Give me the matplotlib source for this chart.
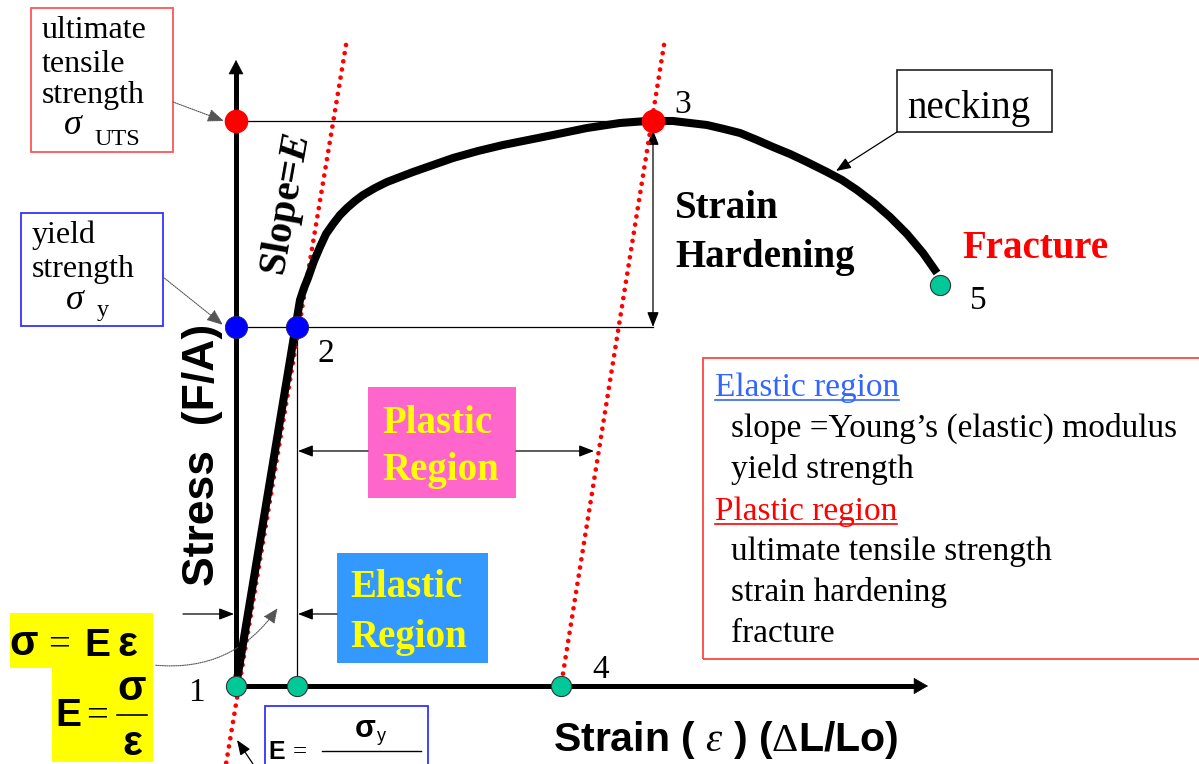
import matplotlib
matplotlib.use("Agg")
import matplotlib.pyplot as plt
from matplotlib.patches import Rectangle, FancyArrowPatch

plt.rcParams['mathtext.fontset'] = 'custom'
plt.rcParams['mathtext.rm'] = 'Liberation Serif'
plt.rcParams['mathtext.it'] = 'Liberation Serif:italic'
plt.rcParams['mathtext.bf'] = 'Liberation Serif:bold'
plt.rcParams['mathtext.bfit'] = 'Liberation Serif:bold:italic'

SERIF = 'Liberation Serif'
SANS = 'Liberation Sans'

# ---------------- data (strain, stress; arbitrary units) ----------------
curve_strain = [0.00, 0.64, 0.68, 0.72, 0.78, 0.84, 0.90, 0.97, 1.04, 1.11, 1.19,
                1.27, 1.39, 1.51, 1.64, 1.77, 1.97, 2.17, 2.42, 2.67, 2.92, 3.17,
                3.51, 3.84, 4.11, 4.17, 4.37, 4.54, 4.71, 4.88, 5.04, 5.21, 5.37,
                5.54, 5.71, 5.91, 6.06, 6.21, 6.38, 6.54, 6.71, 6.87, 7.01]
curve_stress = [0.00, 3.86, 3.98, 4.08, 4.25, 4.39, 4.52, 4.62, 4.71, 4.78, 4.85,
                4.91, 4.98, 5.04, 5.09, 5.14, 5.21, 5.28, 5.35, 5.41, 5.46, 5.51,
                5.58, 5.63, 5.65, 5.65, 5.65, 5.63, 5.61, 5.57, 5.53, 5.46, 5.39,
                5.32, 5.24, 5.14, 5.06, 4.96, 4.83, 4.69, 4.52, 4.33, 4.13]

yield_strain, yield_stress = 0.61, 3.59
uts_strain, uts_stress = 4.17, 5.65
offset_strain = 3.25
fracture_strain, fracture_stress = 7.04, 4.01

green_strain = [0.0, yield_strain, offset_strain, fracture_strain]
green_stress = [0.0, 0.0, 0.0, fracture_stress]
red_strain = [0.0, uts_strain]
red_stress = [uts_stress, uts_stress]
blue_strain = [0.0, yield_strain]
blue_stress = [yield_stress, yield_stress]

elastic_line_strain = [1.10, -0.10]
elastic_line_stress = [6.41, -0.78]
offset_line_strain = [4.28, offset_strain]
offset_line_stress = [6.41, 0.0]

legend_lines = ["Elastic region", "slope =Young\u2019s (elastic) modulus", "yield strength",
                "Plastic region", "ultimate tensile strength", "strain hardening", "fracture"]

# ---------------- figure ----------------
fig = plt.figure(figsize=(11.99, 7.64), dpi=100)
ax = fig.add_axes([0, 0, 1, 1])
ax.set_xlim(-2.36, 9.63)
ax.set_ylim(-0.78, 6.86)
ax.axis('off')


def P(px, py):
    """layout helper: figure pixel -> data coords"""
    return ((px - 236) / 100.0, (686 - py) / 100.0)


def rect(x0, y0, x1, y1, **kw):
    a = P(x0, y1)
    r = Rectangle(a, (x1 - x0) / 100.0, (y1 - y0) / 100.0, **kw)
    ax.add_patch(r)
    return r


def txt(px, py, s, **kw):
    x, y = P(px, py)
    kw.setdefault('ha', 'left')
    kw.setdefault('va', 'baseline')
    return ax.text(x, y, s, **kw)


def arrow(p0, p1, style='-|>', lw=0.9, color='k', ls='-', hl=0.9, hw=0.35, ms=10, z=3):
    ax.annotate('', xy=p1, xytext=p0,
                arrowprops=dict(arrowstyle=f'{style},head_length={hl},head_width={hw}',
                                mutation_scale=ms, lw=lw, color=color, linestyle=ls,
                                shrinkA=0, shrinkB=0), zorder=z)


# guide lines (thin)
ax.plot([0, uts_strain], [uts_stress, uts_stress], color='k', lw=0.9, zorder=2)
ax.plot([0, uts_strain], [yield_stress, yield_stress], color='k', lw=0.9, zorder=2)
ax.plot([yield_strain, yield_strain], [0, yield_stress], color='k', lw=0.9, zorder=2)
arrow((uts_strain, uts_stress - 0.09), (uts_strain, yield_stress), style='<|-|>', z=2)

# red dotted modulus lines
for xs, ys in [(elastic_line_strain, elastic_line_stress), (offset_line_strain, offset_line_stress)]:
    ax.plot(xs, ys, color='red', lw=3.4, linestyle=(0, (0.001, 1.75)),
            dash_capstyle='round', zorder=4)

# axes
ax.plot([0, 0], [0, 6.15], color='k', lw=3.6, solid_capstyle='butt', zorder=3)
ax.plot([0, 6.80], [0, 0], color='k', lw=3.6, solid_capstyle='butt', zorder=3)
arrow((0, 6.0), (0, 6.26), hl=0.95, hw=0.5, lw=0.5, ms=10)
arrow((6.6, 0), (6.92, 0), hl=0.95, hw=0.55, lw=0.5, ms=10)

# stress-strain curve
ax.plot(curve_strain, curve_stress, color='k', lw=5.8, solid_joinstyle='round',
        solid_capstyle='butt', zorder=5)

# key points
ax.plot(red_strain, red_stress, 'o', ms=16, color='#FF0000', mec='#FF0000', zorder=6, ls='none')
ax.plot(blue_strain, blue_stress, 'o', ms=16, color='#0000FF', mec='#222266', mew=0.6, zorder=6, ls='none')
ax.plot(green_strain, green_stress, 'o', ms=14.5, color='#00C896', mec='#333333', mew=0.8, zorder=6, ls='none')

# point numbers
NUM = dict(fontsize=24, family=SERIF)
txt(188, 701, '1', **NUM)
txt(318, 362, '2', **NUM)
txt(674, 113, '3', **NUM)
txt(592, 678, '4', **NUM)
txt(970, 309, '5', **NUM)

# Slope=E
sx, sy = P(287, 205)
ax.text(sx, sy, r'Slope=$\mathbfit{E}$', fontsize=29, family=SERIF, weight='bold',
        rotation=80, ha='center', va='center', rotation_mode='anchor', zorder=7)

# Strain hardening / Fracture
txt(675, 218, 'Strain', fontsize=28, family=SERIF, weight='bold')
txt(675, 267, 'Hardening', fontsize=28, family=SERIF, weight='bold')
txt(962, 258, 'Fracture', fontsize=28, family=SERIF, weight='bold', color='#FF0000')

# axis labels
lx, ly = P(203, 455)
ax.text(lx, ly, 'Stress  (F/A)', fontsize=32, family=SANS, weight='bold', rotation=90,
        ha='center', va='center')
lx, ly = P(726, 740)
ax.text(lx, ly, r'Strain ( $\varepsilon$ ) ($\Delta$L/Lo)', fontsize=29.5, family=SANS,
        weight='bold', ha='center', va='center')

# UTS box
rect(31, 8, 173, 152, fill=False, ec='#FF5555', lw=1.3, zorder=3)
for s, b in [('ultimate', 38), ('tensile', 72), ('strength', 103)]:
    txt(42, b, s, fontsize=23, family=SERIF)
txt(64, 134, '\u03c3', fontsize=26, family=SERIF, style='italic')
txt(95, 145, 'UTS', fontsize=17.5, family=SERIF)
arrow(P(173, 102), P(224, 121), ls=(0, (1, 1)), color='#555555', lw=0.8, hl=1.0, hw=0.4)

# yield box
rect(21, 213, 163, 326, fill=False, ec='#3333FF', lw=1.3, zorder=3)
txt(32, 243, 'yield', fontsize=23, family=SERIF)
txt(32, 277, 'strength', fontsize=23, family=SERIF)
txt(66, 309, '\u03c3', fontsize=26, family=SERIF, style='italic')
txt(97, 316, 'y', fontsize=17.5, family=SERIF)
arrow(P(163, 277), P(223, 325), ls=(0, (1, 1)), color='#555555', lw=0.8, hl=1.0, hw=0.4)

# necking box
rect(897, 70, 1052, 132, fill=False, ec='#222222', lw=1.2, zorder=3)
txt(907, 118, 'necking', fontsize=28, family=SERIF)
arrow(P(897, 132), P(836, 171), lw=0.9)

# plastic / elastic region boxes
rect(368, 387, 516, 498, fc='#FF66CC', ec='none', zorder=3)
txt(382, 433, 'Plastic', fontsize=28, family=SERIF, weight='bold', color='#FFFF00', zorder=4)
txt(382, 480, 'Region', fontsize=28, family=SERIF, weight='bold', color='#FFFF00', zorder=4)
arrow(P(368, 451), P(298, 451))
arrow(P(516, 451), P(594, 451))

rect(337, 553, 488, 663, fc='#3399FF', ec='none', zorder=3)
txt(350, 597, 'Elastic', fontsize=28, family=SERIF, weight='bold', color='#FFFF00', zorder=4)
txt(350, 647, 'Region', fontsize=28, family=SERIF, weight='bold', color='#FFFF00', zorder=4)
arrow(P(337, 614), P(298, 614))
arrow(P(183, 614), P(234, 614))

# legend box
rect(703, 358, 1215, 659, fill=False, ec='#FF4444', lw=1.3, zorder=3)
leg_pos = [(715, 396), (731, 437), (731, 478), (715, 520), (731, 560), (731, 601), (731, 642)]
leg_col = ['#3366FF', 'k', 'k', '#FF0000', 'k', 'k', 'k']
leg_texts = []
for s, (px, py), c in zip(legend_lines, leg_pos, leg_col):
    leg_texts.append(txt(px, py, s, fontsize=24, family=SERIF, color=c))

# yellow formula box
rect(10, 613, 153, 668, fc='#FFFF00', ec='none', zorder=3)
rect(52, 667, 153, 762, fc='#FFFF00', ec='none', zorder=3)
F = dict(family=SANS, weight='bold', zorder=4)
txt(9, 655, '\u03c3', fontsize=30, **F)
txt(48, 655, '=', fontsize=28, family=SERIF, zorder=4)
txt(84, 656, 'E', fontsize=28, **F)
txt(117, 656, '\u03b5', fontsize=30, **F)
txt(55, 726, 'E', fontsize=28, **F)
txt(86, 726, '=', fontsize=28, family=SERIF, zorder=4)
txt(132, 700, '\u03c3', fontsize=30, ha='center', **F)
ax.plot(*zip(P(117, 715), P(147, 715)), color='k', lw=1.2, zorder=4)
txt(132, 755, '\u03b5', fontsize=30, ha='center', **F)
curved = FancyArrowPatch(P(153, 665), P(279, 606), connectionstyle='arc3,rad=0.3',
                         arrowstyle='-|>,head_length=0.9,head_width=0.4', mutation_scale=10,
                         lw=0.8, color='#555555', linestyle=(0, (1, 1)), zorder=4)
ax.add_patch(curved)

# E = sigma_y / ... box
rect(265, 706, 428, 790, fill=False, ec='#3333FF', lw=1.3, zorder=3)
txt(268, 759, 'E', fontsize=18, **F)
txt(293, 758, '=', fontsize=18, family=SERIF, zorder=4)
txt(365, 737, '\u03c3', fontsize=22, ha='center', **F)
txt(377, 741, 'y', fontsize=13, family=SANS, zorder=4)
ax.plot(*zip(P(322, 751), P(421, 751)), color='k', lw=1.0, zorder=4)
arrow(P(253, 764), P(237, 740), lw=0.9)

# underline the legend headings
fig.canvas.draw()
rend = fig.canvas.get_renderer()
inv = ax.transData.inverted()
for i, py in [(0, 400), (3, 524)]:
    bb = leg_texts[i].get_window_extent(rend)
    x0 = inv.transform((bb.x0, 0))[0]
    x1 = inv.transform((bb.x1, 0))[0]
    yy = P(0, py)[1]
    ax.plot([x0, x1], [yy, yy], color=leg_col[i], lw=1.2, zorder=4)

fig.savefig('out.png', dpi=100)
